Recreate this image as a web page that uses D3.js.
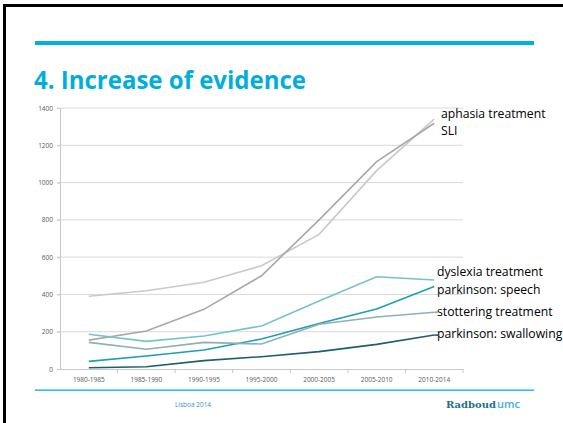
<!DOCTYPE html>
<html>
<head>
<meta charset="utf-8">
<script src="https://cdn.jsdelivr.net/npm/d3@7"></script>
<style>
  body { margin: 0; background: #fff; }
  svg { display: block; }
</style>
</head>
<body>
<div id="chart"></div>
<script>
// periods on the x axis
var periods = ["1980-1985", "1985-1990", "1990-1995", "1995-2000", "2000-2005", "2005-2010", "2010-2014"];
var yTicks = [0, 200, 400, 600, 800, 1000, 1200, 1400];

// number of publications per period
var aphasia     = [390, 420, 465, 554, 722, 1064, 1340];
var sli         = [155, 204, 320, 500, 800, 1112, 1318];
var dyslexia    = [186, 148, 177, 231, 365, 495, 477];
var pdSpeech    = [41, 70, 102, 161, 244, 322, 442];
var stottering  = [143, 106, 143, 134, 240, 279, 304];
var pdSwallow   = [7, 12, 45, 66, 93, 132, 182];

var seriesNames = ["aphasia treatment", "SLI", "dyslexia treatment", "parkinson: speech", "stottering treatment", "parkinson: swallowing"];
var seriesColors = ["#c9c9c9", "#a8a8a8", "#74c3cc", "#1c9fb6", "#8eafb4", "#1e5e6e"];
var seriesValues = [aphasia, sli, dyslexia, pdSpeech, stottering, pdSwallow];

var width = 563, height = 423;
var margin = { top: 108, left: 60, right: 100, bottom: 54 };
var innerW = width - margin.left - margin.right;
var innerH = height - margin.top - margin.bottom;

var svg = d3.select("#chart").append("svg")
    .attr("width", width)
    .attr("height", height);

// slide frame (black edge top and left)
svg.append("rect").attr("x", 3).attr("y", 4).attr("width", width - 3).attr("height", 3).attr("fill", "#000");
svg.append("rect").attr("x", 3).attr("y", 4).attr("width", 3).attr("height", height - 4).attr("fill", "#000");

// top rule and title
svg.append("rect").attr("x", 35).attr("y", 41).attr("width", 499).attr("height", 4).attr("fill", "#00b1e0");
svg.append("text")
    .attr("x", 34).attr("y", 89)
    .attr("font-family", "Open Sans, sans-serif")
    .attr("font-weight", "bold")
    .attr("font-size", 25)
    .attr("textLength", 272)
    .attr("lengthAdjust", "spacingAndGlyphs")
    .attr("fill", "#00aedc")
    .text("4. Increase of evidence");

var chart = svg.append("g")
    .attr("transform", "translate(" + margin.left + "," + margin.top + ")");

var x = d3.scaleBand().domain(periods).range([0, innerW]);
var y = d3.scaleLinear().domain([0, 1400]).range([innerH, 0]);

// gridlines
chart.append("g")
    .selectAll("line")
    .data(yTicks.filter(function (d) { return d > 0; }))
    .enter().append("line")
    .attr("x1", -3).attr("x2", innerW)
    .attr("y1", function (d) { return y(d); })
    .attr("y2", function (d) { return y(d); })
    .attr("stroke", "#d9d9d9")
    .attr("stroke-width", 1);

// y axis
var yAxis = chart.append("g")
    .call(d3.axisLeft(y).tickValues(yTicks).tickFormat(d3.format("d")).tickSize(3).tickPadding(4));
yAxis.select(".domain").attr("stroke", "#c8c8c8");
yAxis.selectAll(".tick line").attr("stroke", "#c8c8c8");
yAxis.selectAll("text")
    .attr("font-family", "Open Sans, sans-serif")
    .attr("font-size", 6.5)
    .attr("fill", "#595959");

// x axis, ticks between categories
var xAxis = chart.append("g")
    .attr("transform", "translate(0," + innerH + ")")
    .call(d3.axisBottom(x).tickSize(0).tickPadding(8));
xAxis.select(".domain").attr("stroke", "#c8c8c8");
xAxis.selectAll("text")
    .attr("font-family", "Open Sans, sans-serif")
    .attr("font-size", 6.5)
    .attr("fill", "#595959");
xAxis.append("g")
    .selectAll("line")
    .data(periods)
    .enter().append("line")
    .attr("x1", function (d) { return x(d) + x.bandwidth(); })
    .attr("x2", function (d) { return x(d) + x.bandwidth(); })
    .attr("y1", 0).attr("y2", 4)
    .attr("stroke", "#c8c8c8");

// lines
var line = d3.line()
    .x(function (d, i) { return x(periods[i]) + x.bandwidth() / 2; })
    .y(function (d) { return y(d); });

chart.append("g")
    .selectAll("path")
    .data(seriesValues)
    .enter().append("path")
    .attr("d", line)
    .attr("fill", "none")
    .attr("stroke", function (d, i) { return seriesColors[i]; })
    .attr("stroke-width", 1.6);

// short leaders for the labels that touch their line
var lastX = x(periods[periods.length - 1]) + x.bandwidth() / 2;
[4, 5].forEach(function (i) {
    var v = seriesValues[i][seriesValues[i].length - 1];
    chart.append("line")
        .attr("x1", lastX).attr("x2", lastX + 4)
        .attr("y1", y(v)).attr("y2", y(v))
        .attr("stroke", seriesColors[i])
        .attr("stroke-width", 1.6);
});

// series labels on the right
var labelPos = [[441, 118], [441, 135], [437, 276], [437, 294], [437, 316], [437, 338]];
svg.append("g")
    .selectAll("text")
    .data(seriesNames)
    .enter().append("text")
    .attr("x", function (d, i) { return labelPos[i][0]; })
    .attr("y", function (d, i) { return labelPos[i][1]; })
    .attr("font-family", "Open Sans, sans-serif")
    .attr("font-size", 12.2)
    .attr("fill", "#000")
    .text(function (d) { return d; });

// footer
svg.append("rect").attr("x", 35).attr("y", 389.5).attr("width", 499).attr("height", 1.3).attr("fill", "#00b1e0");
svg.append("text")
    .attr("x", 193).attr("y", 406.5)
    .attr("text-anchor", "middle")
    .attr("font-family", "Open Sans, sans-serif")
    .attr("font-size", 6.5)
    .attr("fill", "#3b8fbf")
    .text("Lisboa 2014");
var brand = svg.append("text")
    .attr("x", 446).attr("y", 408)
    .attr("font-family", "DejaVu Serif, serif")
    .attr("font-weight", "bold")
    .attr("font-size", 10);
brand.append("tspan").attr("fill", "#1d6e8d").text("Radboud");
brand.append("tspan").attr("fill", "#3eb1de").attr("font-family", "Open Sans, sans-serif").attr("font-weight", "600").attr("font-size", 11).attr("dx", 1).text("umc");
</script>
</body>
</html>
